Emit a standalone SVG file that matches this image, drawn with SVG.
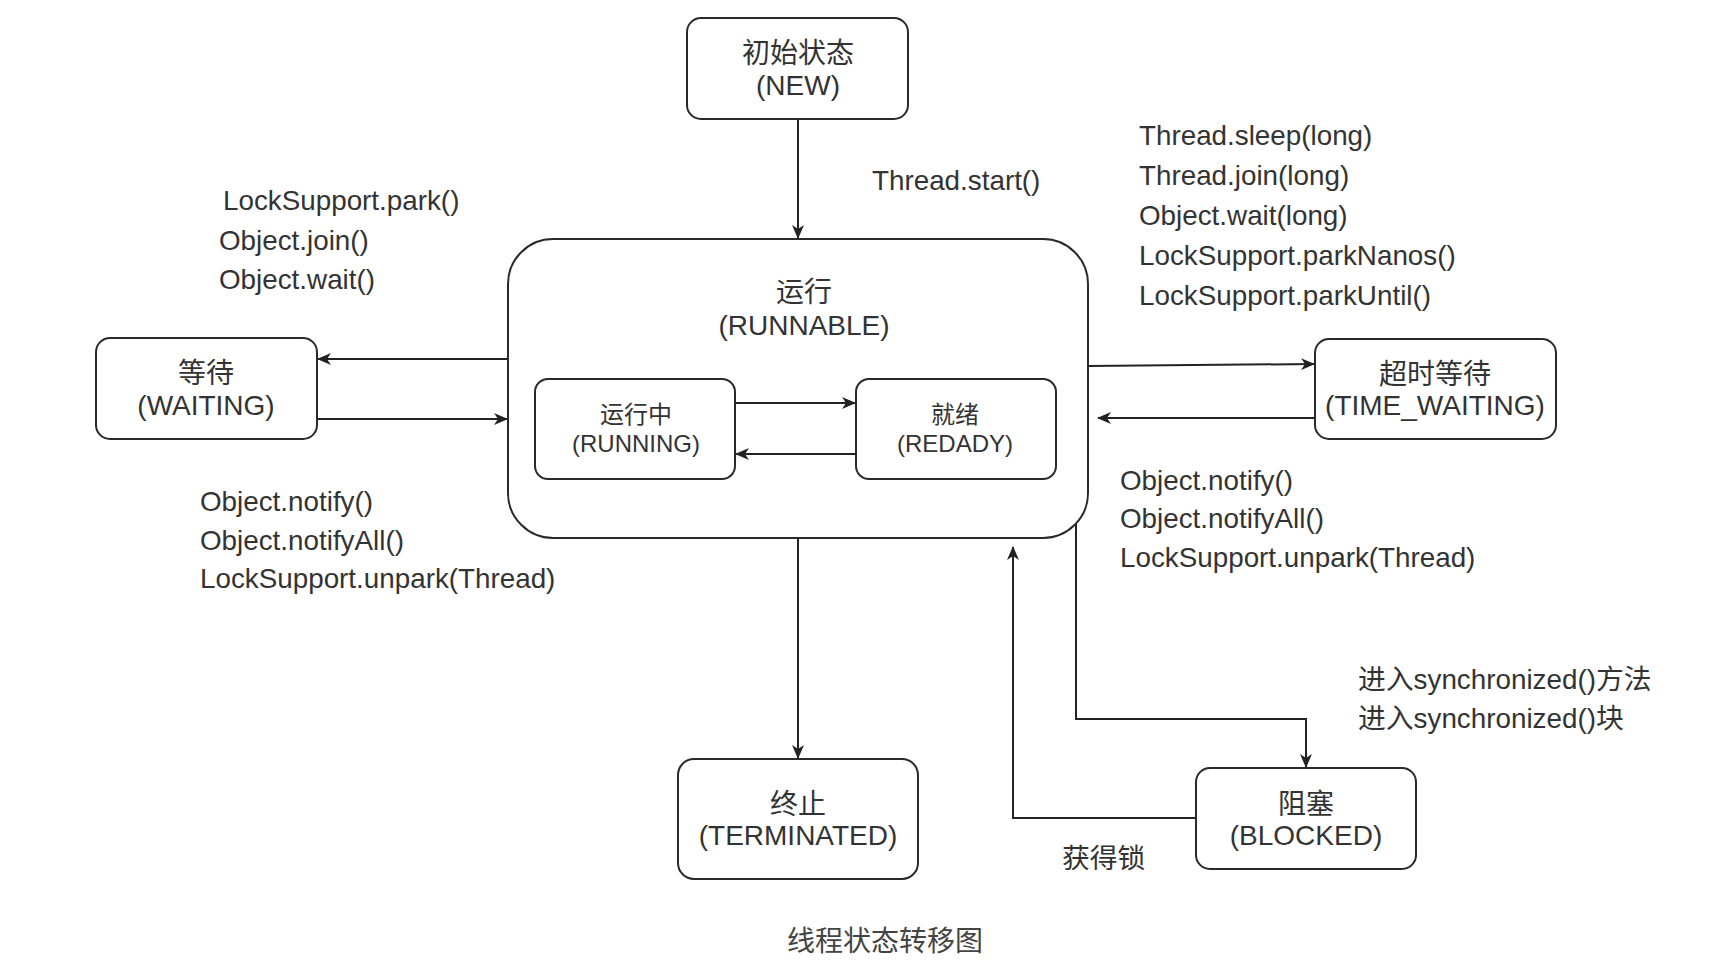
<svg xmlns="http://www.w3.org/2000/svg" width="1712" height="968" viewBox="0 0 1712 968">
<defs>
<marker id="arr" viewBox="0 0 14 12" refX="13" refY="6" markerWidth="14" markerHeight="12" markerUnits="userSpaceOnUse" orient="auto">
<path d="M0,0 L14,6 L0,12 L4,6 z" fill="#222"/>
</marker>
</defs>
<style>
.box{fill:#fff;stroke:#2a2a2a;stroke-width:2}
.t{font-family:"Liberation Sans","Noto Sans CJK SC",sans-serif;font-size:28px;fill:#333}
.c{text-anchor:middle}
.s{font-size:24px}
.lbl{font-family:"Liberation Sans","Noto Sans CJK SC",sans-serif;font-size:27.8px;fill:#333}
.cap{font-family:"Noto Sans CJK SC",sans-serif;font-size:28px;fill:#444;text-anchor:middle}
.e{fill:none;stroke:#222;stroke-width:2;marker-end:url(#arr)}
</style>
<rect width="1712" height="968" fill="#fff"/>

<g id="connectors">
<line class="e" x1="798" y1="119" x2="798" y2="238"/>
<line class="e" x1="508" y1="359" x2="318" y2="359"/>
<line class="e" x1="317" y1="419" x2="507" y2="419"/>
<line class="e" x1="1088" y1="366" x2="1314" y2="364"/>
<line class="e" x1="1315" y1="418" x2="1098" y2="418"/>
<line class="e" x1="798" y1="538" x2="798" y2="758"/>
<polyline class="e" points="1076,524 1076,719 1306,719 1306,767"/>
<polyline class="e" points="1196,818 1013,818 1013,547"/>
</g>

<g id="node-new">
<rect class="box" x="687" y="18" width="221" height="101" rx="14"/>
<text class="t c" x="798" y="63">初始状态</text>
<text class="t c" x="798" y="95">(NEW)</text>
</g>

<g id="node-runnable">
<rect class="box" x="508" y="239" width="580" height="299" rx="45"/>
<text class="t c" x="804" y="302">运行</text>
<text class="t c" x="804" y="335">(RUNNABLE)</text>
</g>

<g id="node-running">
<rect class="box" x="535" y="379" width="200" height="100" rx="13"/>
<text class="t s c" x="636" y="423">运行中</text>
<text class="t s c" x="636" y="452">(RUNNING)</text>
</g>

<g id="node-ready">
<rect class="box" x="856" y="379" width="200" height="100" rx="13"/>
<text class="t s c" x="955" y="423">就绪</text>
<text class="t s c" x="955" y="452">(REDADY)</text>
</g>

<g id="inner-connectors">
<line class="e" x1="735" y1="403" x2="855" y2="403"/>
<line class="e" x1="856" y1="454" x2="736" y2="454"/>
</g>

<g id="node-waiting">
<rect class="box" x="96" y="338" width="221" height="101" rx="14"/>
<text class="t c" x="206" y="383">等待</text>
<text class="t c" x="206" y="415">(WAITING)</text>
</g>

<g id="node-timewaiting">
<rect class="box" x="1315" y="339" width="241" height="100" rx="14"/>
<text class="t c" x="1435" y="384">超时等待</text>
<text class="t c" x="1435" y="415">(TIME_WAITING)</text>
</g>

<g id="node-terminated">
<rect class="box" x="678" y="759" width="240" height="120" rx="16"/>
<text class="t c" x="798" y="814">终止</text>
<text class="t c" x="798" y="845">(TERMINATED)</text>
</g>

<g id="node-blocked">
<rect class="box" x="1196" y="768" width="220" height="101" rx="14"/>
<text class="t c" x="1306" y="814">阻塞</text>
<text class="t c" x="1306" y="845">(BLOCKED)</text>
</g>

<g id="labels">
<text class="lbl" x="872" y="190">Thread.start()</text>
<text class="lbl" x="223" y="210">LockSupport.park()</text>
<text class="lbl" x="219" y="250">Object.join()</text>
<text class="lbl" x="219" y="289">Object.wait()</text>
<text class="lbl" x="200" y="511">Object.notify()</text>
<text class="lbl" x="200" y="550">Object.notifyAll()</text>
<text class="lbl" x="200" y="588">LockSupport.unpark(Thread)</text>
<text class="lbl" x="1139" y="145">Thread.sleep(long)</text>
<text class="lbl" x="1139" y="185">Thread.join(long)</text>
<text class="lbl" x="1139" y="225">Object.wait(long)</text>
<text class="lbl" x="1139" y="265">LockSupport.parkNanos()</text>
<text class="lbl" x="1139" y="305">LockSupport.parkUntil()</text>
<text class="lbl" x="1120" y="490">Object.notify()</text>
<text class="lbl" x="1120" y="528">Object.notifyAll()</text>
<text class="lbl" x="1120" y="567">LockSupport.unpark(Thread)</text>
<text class="lbl" x="1358" y="689">进入synchronized()方法</text>
<text class="lbl" x="1358" y="728">进入synchronized()块</text>
<text class="lbl" x="1062" y="868">获得锁</text>
</g>

<text class="cap" x="885" y="951">线程状态转移图</text>
</svg>
